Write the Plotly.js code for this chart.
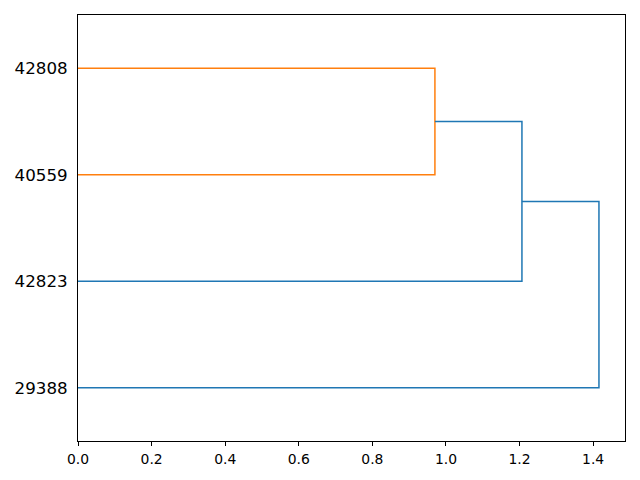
<!DOCTYPE html>
<html>
<head>
<meta charset="utf-8">
<script src="https://cdn.plot.ly/plotly-3.0.1.min.js"></script>
<style>html,body{margin:0;padding:0;background:#fff;}#chart{width:640px;height:480px;}</style>
</head>
<body>
<div id="chart"></div>
<script>
// Leaves in display order (bottom to top)
const leafLabels = ["29388", "42823", "40559", "42808"];
// Linkage: [left member, right member, distance]; members 0..3 are leaves, 4+ are merged clusters
const mergeLeft = [2, 1, 0];
const mergeRight = [3, 4, 5];
const mergeDist = [0.970, 1.2065, 1.4158];
const mergeColors = ["#ff7f0e", "#1f77b4", "#1f77b4"];

const pos = leafLabels.map((_, i) => 5 + 10 * i);
const hgt = leafLabels.map(() => 0);
const traces = [];
for (let k = 0; k < mergeDist.length; k++) {
  const a = mergeLeft[k], b = mergeRight[k], d = mergeDist[k];
  traces.push({
    type: "scatter", mode: "lines",
    x: [hgt[a], d, d, hgt[b]],
    y: [pos[a], pos[a], pos[b], pos[b]],
    line: {color: mergeColors[k], width: 1.5},
    hoverinfo: "skip", showlegend: false
  });
  pos.push((pos[a] + pos[b]) / 2);
  hgt.push(d);
}
const maxD = Math.max(...mergeDist);

const layout = {
  width: 640, height: 480,
  margin: {l: 78, r: 15, t: 15, b: 39, pad: 0},
  paper_bgcolor: "#fff", plot_bgcolor: "#fff",
  font: {family: "DejaVu Sans, sans-serif", color: "#000"},
  xaxis: {
    range: [0, maxD * 1.05], dtick: 0.2, tick0: 0, tickformat: ".1f",
    showgrid: false, zeroline: false, showline: true, linecolor: "#000", linewidth: 1, mirror: true,
    ticks: "outside", ticklen: 3.5, tickwidth: 1, tickcolor: "#000", ticklabelstandoff: 2,
    tickfont: {size: 13.9, family: "DejaVu Sans"}
  },
  yaxis: {
    range: [0, 10 * leafLabels.length],
    tickmode: "array", tickvals: leafLabels.map((_, i) => 5 + 10 * i), ticktext: leafLabels,
    showgrid: false, zeroline: false, showline: true, linecolor: "#000", linewidth: 1, mirror: true,
    ticks: "", ticklabelstandoff: 6,
    tickfont: {size: 16.7, family: "DejaVu Sans"}
  }
};
Plotly.newPlot("chart", traces, layout, {staticPlot: true, displayModeBar: false});
</script>
</body>
</html>
